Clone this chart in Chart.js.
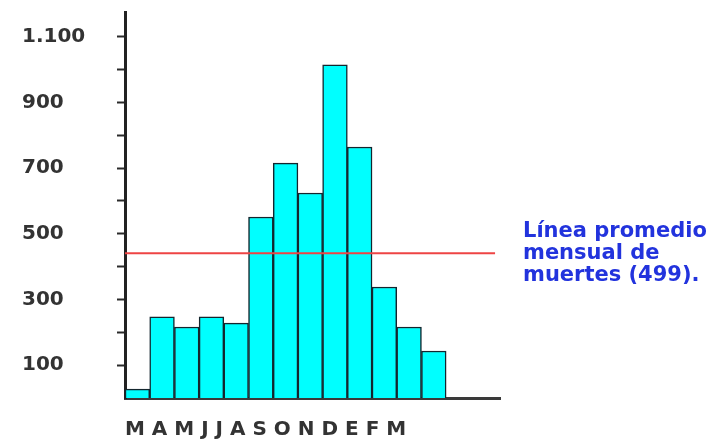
<!DOCTYPE html>
<html>
<head>
    <title>Muertes mensuales</title>
    <script src="https://cdn.jsdelivr.net/npm/chart.js"></script>
    <style>
        body {
            margin: 0;
            background-color: #ffffff;
        }
    </style>
</head>
<body>
    <canvas id="barChart" width="712" height="445"></canvas>

    <script>
        // Months from March to March
        const months = ['M', 'A', 'M', 'J', 'J', 'A', 'S', 'O', 'N', 'D', 'E', 'F', 'M'];
        const deaths = [27, 247, 216, 247, 228, 551, 715, 624, 1014, 764, 338, 216, 143];

        // Average line, as drawn, and its note
        const averageLine = 441;
        const averageNote = ['Línea promedio', 'mensual de', 'muertes (499).'];

        const yTickValues = [100, 300, 500, 700, 900, 1100];
        const yTickLabels = ['100', '300', '500', '700', '900', '1.100'];

        const fontFamily = "'DejaVu Sans', Arial, sans-serif";

        const averageNotePlugin = {
            id: 'averageNote',
            afterDraw(chart) {
                const ctx = chart.ctx;
                const y = chart.scales.y.getPixelForValue(averageLine);
                const x = chart.chartArea.right + 23;
                ctx.save();
                ctx.font = 'bold 21px ' + fontFamily;
                ctx.fillStyle = '#2233dd';
                ctx.textAlign = 'left';
                ctx.textBaseline = 'alphabetic';
                averageNote.forEach((line, i) => {
                    ctx.fillText(line, x, y - 16 + i * 22);
                });
                ctx.restore();
            }
        };

        const ctx = document.getElementById('barChart').getContext('2d');

        new Chart(ctx, {
            type: 'bar',
            data: {
                datasets: [
                    {
                        type: 'line',
                        label: 'Promedio',
                        data: [{ x: -0.5, y: averageLine }, { x: 14.48, y: averageLine }],
                        borderColor: '#ee4444',
                        borderWidth: 2,
                        pointRadius: 0,
                        fill: false,
                        order: 0
                    },
                    {
                        label: 'Muertes',
                        data: deaths.map((v, i) => ({ x: i, y: v })),
                        backgroundColor: '#00ffff',
                        borderColor: '#14262e',
                        borderWidth: 1.5,
                        barPercentage: 1,
                        categoryPercentage: 1,
                        order: 1
                    }
                ]
            },
            options: {
                responsive: false,
                animation: false,
                layout: {
                    padding: { left: 22, right: 212, top: 12, bottom: 0 }
                },
                plugins: {
                    legend: { display: false },
                    tooltip: { enabled: false }
                },
                scales: {
                    x: {
                        type: 'linear',
                        min: -0.5,
                        max: 14.68,
                        offset: false,
                        grid: { display: false, drawTicks: false },
                        ticks: { display: false },
                        border: { display: true, color: '#3a3a3a', width: 3 },
                        title: {
                            display: true,
                            text: months.join(' '),
                            align: 'start',
                            color: '#333333',
                            padding: { top: 20, bottom: 3 },
                            font: { family: fontFamily, size: 20, weight: 'bold' }
                        }
                    },
                    y: {
                        min: 0,
                        max: 1175,
                        ticks: {
                            crossAlign: 'far',
                            padding: 0,
                            color: '#333333',
                            font: { family: fontFamily, size: 20, weight: 'bold' },
                            callback: (value) => {
                                const i = yTickValues.indexOf(value);
                                return i >= 0 ? yTickLabels[i] : '';
                            }
                        },
                        afterBuildTicks: (scale) => {
                            // a tick mark every 100, labels only on the odd hundreds
                            const ticks = [];
                            for (let v = 100; v <= 1100; v += 100) ticks.push({ value: v });
                            scale.ticks = ticks;
                        },
                        afterFit: (scale) => {
                            scale.width = 103;
                        },
                        grid: {
                            drawOnChartArea: false,
                            tickLength: 8,
                            tickWidth: 2,
                            tickColor: '#2a2a2a'
                        },
                        border: { display: true, color: '#222222', width: 3 }
                    }
                }
            },
            plugins: [averageNotePlugin]
        });
    </script>
</body>
</html>
